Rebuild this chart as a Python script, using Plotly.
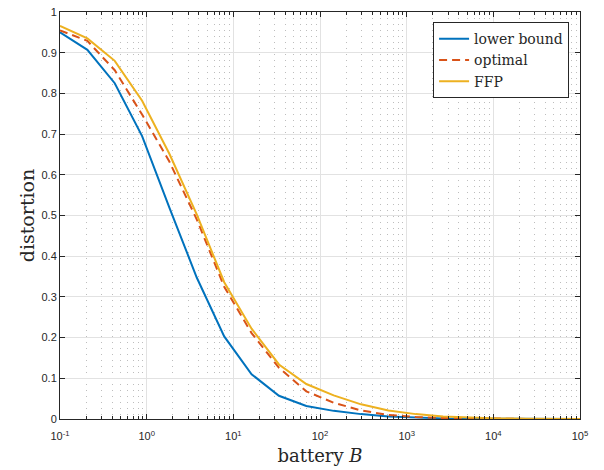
import numpy as np
import plotly.graph_objects as go

# battery values: 20 log-spaced points from 1e-1 to 1e5
battery = np.logspace(-1, 5, 20)

lower_bound = [0.950, 0.907, 0.825, 0.695, 0.519, 0.347, 0.203, 0.110, 0.057, 0.032,
               0.020, 0.012, 0.006, 0.003, 0.0015, 0.0008, 0.0004, 0.0002, 0.0001, 0.00005]
optimal = [0.955, 0.929, 0.857, 0.748, 0.632, 0.490, 0.325, 0.211, 0.126, 0.068,
           0.040, 0.021, 0.010, 0.005, 0.0025, 0.0012, 0.0006, 0.0003, 0.00015, 0.00008]
ffp = [0.966, 0.935, 0.880, 0.782, 0.651, 0.502, 0.336, 0.222, 0.134, 0.086,
       0.058, 0.036, 0.021, 0.012, 0.006, 0.003, 0.0015, 0.0008, 0.0004, 0.0002]

x_tickvals = [1e-1, 1e0, 1e1, 1e2, 1e3, 1e4, 1e5]
x_ticktext = ["10<sup>-1</sup>", "10<sup>0</sup>", "10<sup>1</sup>", "10<sup>2</sup>",
              "10<sup>3</sup>", "10<sup>4</sup>", "10<sup>5</sup>"]
y_tickvals = [0, 0.1, 0.2, 0.3, 0.4, 0.5, 0.6, 0.7, 0.8, 0.9, 1]
y_ticktext = ["0", "0.1", "0.2", "0.3", "0.4", "0.5", "0.6", "0.7", "0.8", "0.9", "1"]

# minor log ticks 2..9 within each decade
minor_vals = [m * 10.0 ** d for d in range(-1, 5) for m in range(2, 10)]

SERIF = "DejaVu Serif"
SANS = "Liberation Sans, Arial"
INK = "#262626"

fig = go.Figure()
fig.add_trace(go.Scatter(x=battery, y=lower_bound, mode="lines", name="lower bound",
                         line=dict(color="#0072BD", width=2)))
fig.add_trace(go.Scatter(x=battery, y=optimal, mode="lines", name="optimal",
                         line=dict(color="#D95319", width=2, dash="8px,5px")))
fig.add_trace(go.Scatter(x=battery, y=ffp, mode="lines", name="FFP",
                         line=dict(color="#EDB120", width=2)))

axis_common = dict(
    showline=True, linecolor=INK, linewidth=1, mirror="ticks",
    ticks="inside", ticklen=5, tickcolor=INK,
    gridcolor="#e2e2e2", gridwidth=1, zeroline=False,
    tickfont=dict(family=SANS, size=11, color=INK),
    ticklabeloverflow="allow",
)

fig.update_xaxes(
    type="log", range=[-1, 5],
    tickvals=x_tickvals, ticktext=x_ticktext,
    ticklabelstandoff=7,
    minor=dict(tickvals=minor_vals, ticks="inside", ticklen=3, tickcolor=INK, showgrid=True,
               gridcolor="#bdbdbd", griddash="1px,5px", gridwidth=1),
    title=dict(text="battery <i>B</i>", font=dict(family=SERIF, size=18, color=INK),
               standoff=8),
    **axis_common,
)
fig.update_yaxes(
    range=[0, 1],
    tickvals=y_tickvals, ticktext=y_ticktext,
    title=dict(text="distortion", font=dict(family=SERIF, size=19, color=INK),
               standoff=1),
    **axis_common,
)

fig.update_layout(
    width=604, height=470,
    margin=dict(l=60, r=24, t=6, b=51),
    plot_bgcolor="white", paper_bgcolor="white",
    legend=dict(x=0.979, y=0.975, xanchor="right", yanchor="top",
                bgcolor="white", bordercolor=INK, borderwidth=1,
                font=dict(family=SERIF, size=14, color=INK),
                tracegroupgap=0, itemwidth=30),
    showlegend=True,
)

fig.write_html("out.html", config={"displayModeBar": False},
               post_script="document.body.style.margin='0';")
